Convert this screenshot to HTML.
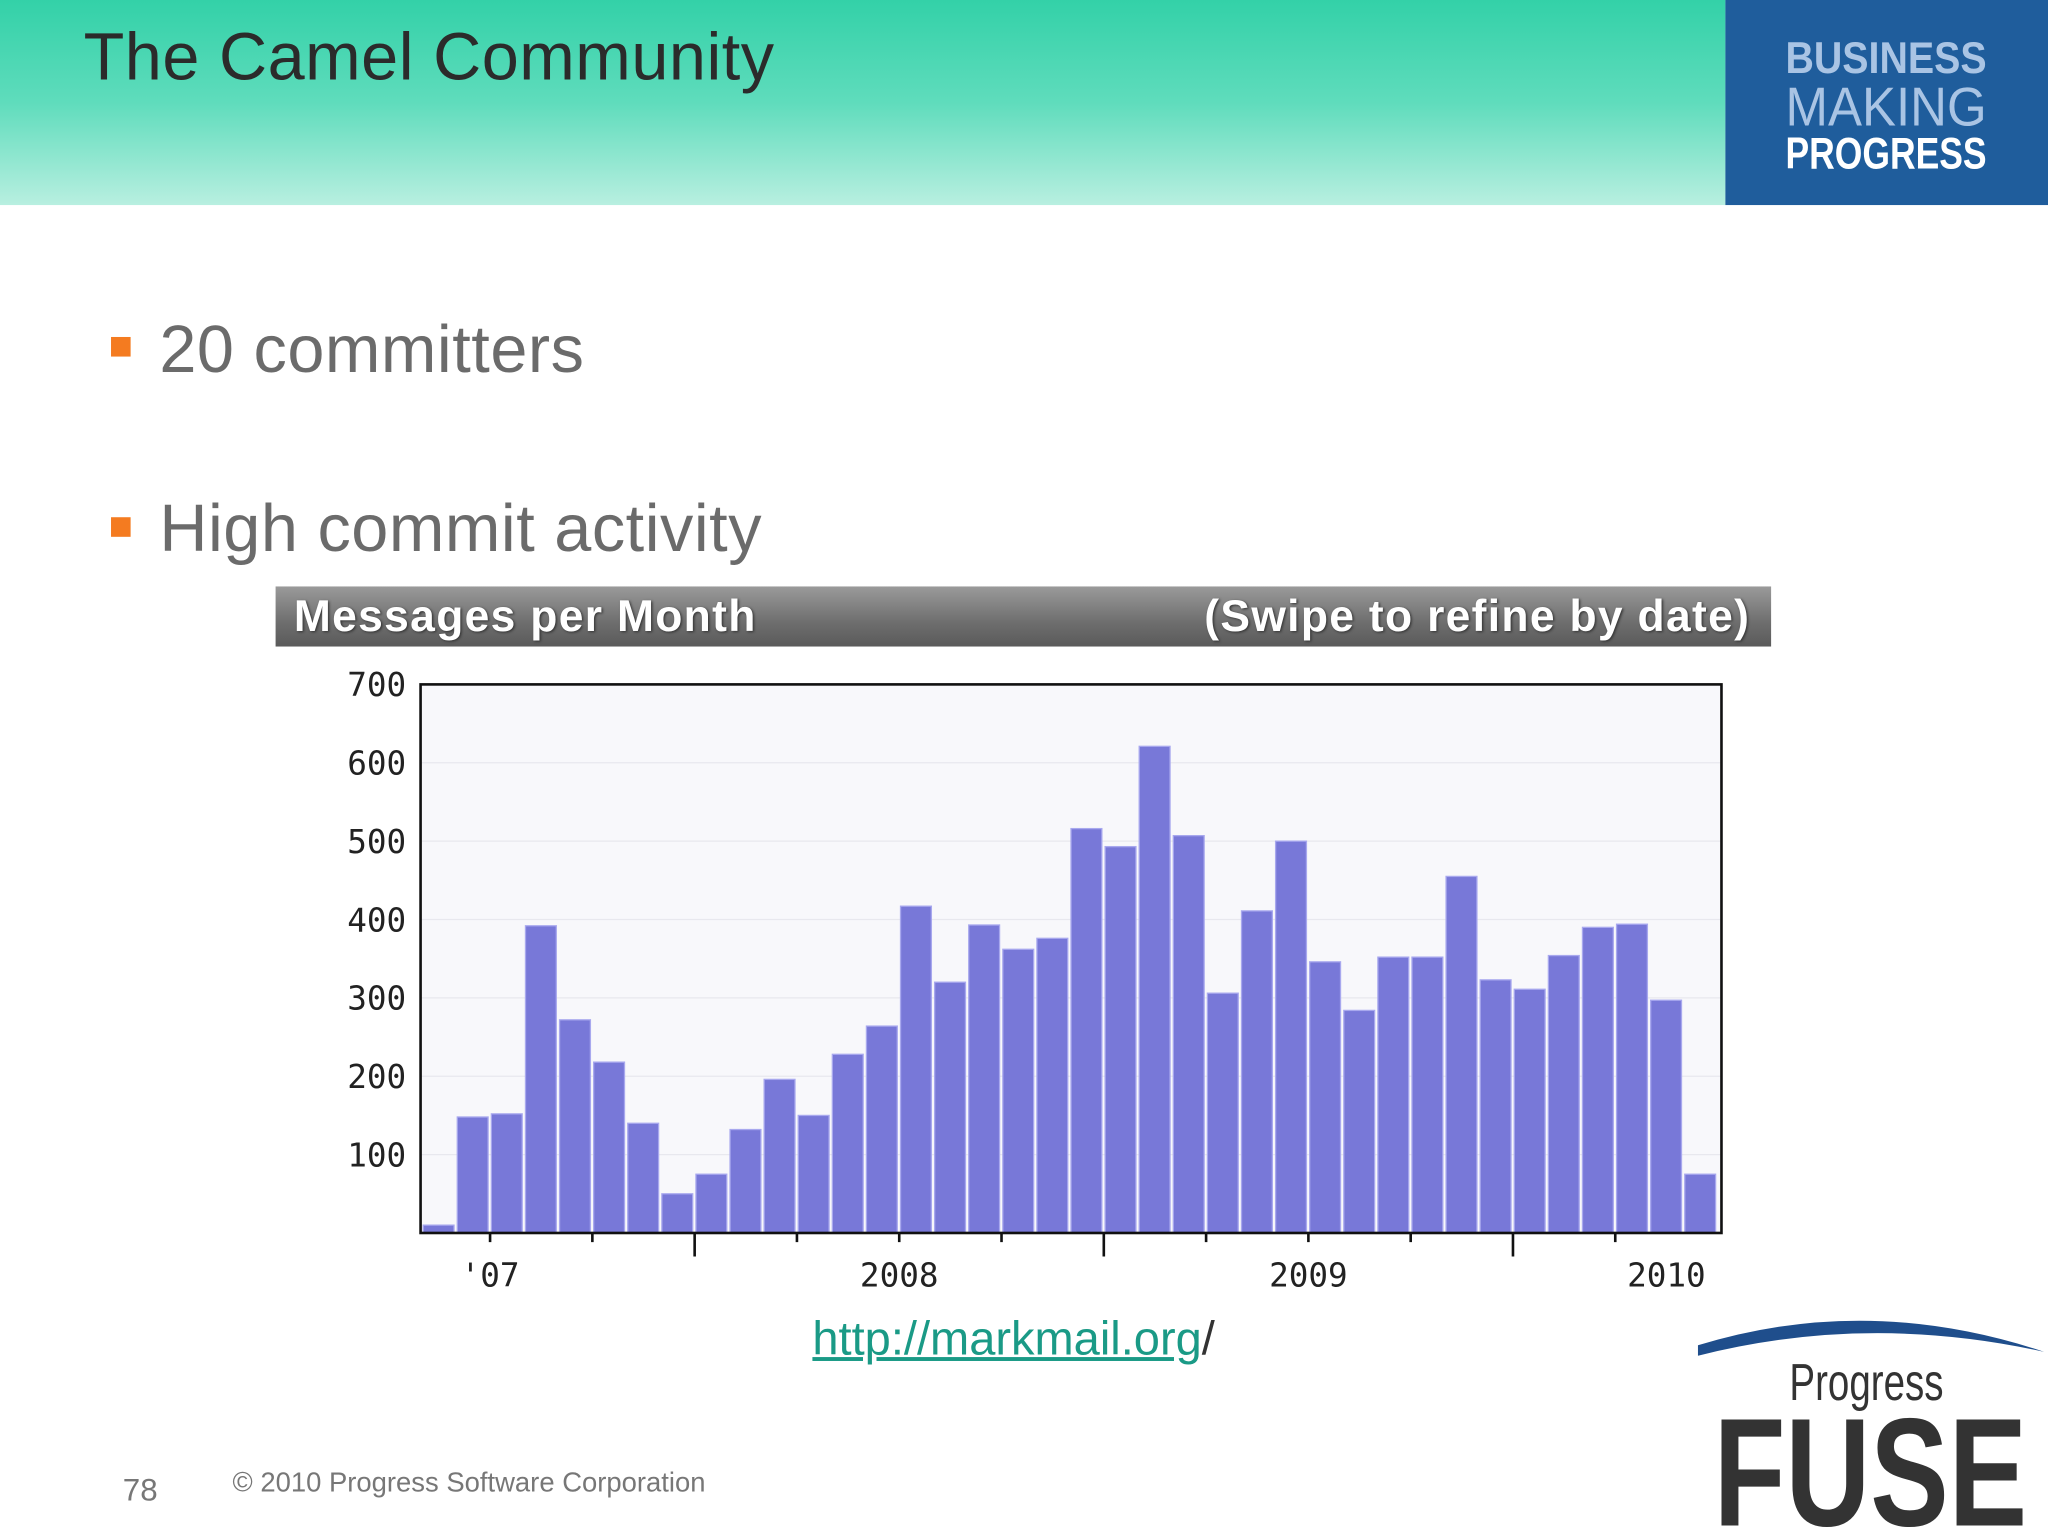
<!DOCTYPE html>
<html><head><meta charset="utf-8">
<style>
html,body{margin:0;padding:0;width:2048px;height:1536px;overflow:hidden;background:#fff}
#wrap{position:absolute;left:0;top:0;width:1568px;height:1176px;transform:scale(1.306122);transform-origin:0 0;font-family:"Liberation Sans",sans-serif}
.abs{position:absolute}
</style></head><body>
<div id="wrap">
  <div class="abs" style="left:0;top:0;width:1321px;height:157px;background:linear-gradient(#33d1a8 0%,#5fdcbc 50%,#b8efe0 100%)"></div>
  <div class="abs" style="left:64px;top:14px;font-size:51px;letter-spacing:0.4px;color:#2b2b2b">The Camel Community</div>
  <div class="abs" style="left:1321px;top:0;width:247px;height:157px;background:#1f5d9c">
    <svg width="247" height="157" style="position:absolute;left:0;top:0">
      <text x="46" y="56" font-family="Liberation Sans,sans-serif" font-weight="bold" font-size="34" fill="#a9c4e4" textLength="154" lengthAdjust="spacingAndGlyphs">BUSINESS</text>
      <text x="46" y="96" font-family="Liberation Sans,sans-serif" font-size="42" fill="#a9c4e4" textLength="154" lengthAdjust="spacingAndGlyphs">MAKING</text>
      <text x="46" y="129" font-family="Liberation Sans,sans-serif" font-weight="bold" font-size="34" fill="#fff" textLength="154" lengthAdjust="spacingAndGlyphs">PROGRESS</text>
    </svg>
  </div>
  <div class="abs" style="left:85px;top:258px;width:15px;height:15px;background:#f47b20"></div>
  <div class="abs" style="left:122px;top:238px;font-size:51px;letter-spacing:0.4px;color:#6b6b6b">20 committers</div>
  <div class="abs" style="left:85px;top:396px;width:15px;height:15px;background:#f47b20"></div>
  <div class="abs" style="left:122px;top:375px;font-size:51px;letter-spacing:0.4px;color:#6b6b6b">High commit activity</div>
  <div class="abs" style="left:211px;top:449px;width:1145px;height:46px;background:linear-gradient(#9a9a9a,#6e6e6e 60%,#5a5a5a);color:#fff;font-weight:bold;font-size:34px;line-height:46px;letter-spacing:1px;text-shadow:1px 1px 2px #333">
    <span style="position:absolute;left:14px">Messages per Month</span>
    <span style="position:absolute;right:16px">(Swipe to refine by date)</span>
  </div>
  <svg class="abs" style="left:0;top:0" width="1568" height="1176" id="chart"></svg>
  <div class="abs" style="left:622px;top:1004px;font-size:36px;color:#1a9a86"><span style="text-decoration:underline">http://markmail.org</span><span style="color:#333">/</span></div>
  <div class="abs" style="left:94px;top:1128px;font-size:24px;color:#777">78</div>
  <div class="abs" style="left:178px;top:1124px;font-size:21px;color:#777">© 2010 Progress Software Corporation</div>
  <svg class="abs" style="left:1290px;top:1000px" width="278" height="176">
    <path d="M10 30 Q140 -10 275 35 Q140 5 10 38 Z" fill="#1f4e8c"/>
    <text x="80" y="72" font-family="Liberation Sans,sans-serif" font-size="40" fill="#333" textLength="118" lengthAdjust="spacingAndGlyphs">Progress</text>
    <text x="22" y="168" font-family="Liberation Sans,sans-serif" font-weight="bold" font-size="118" fill="#333" textLength="240" lengthAdjust="spacingAndGlyphs">FUSE</text>
  </svg>
</div>
<script>
const values=[10,148,152,392,272,218,140,50,75,132,196,150,228,264,417,320,393,362,376,516,493,621,507,306,411,500,346,284,352,352,455,323,311,354,390,394,297,75];
const yTicks=[100,200,300,400,500,600,700];
const xLabels=[{i:2,t:"'07"},{i:14,t:"2008"},{i:26,t:"2009"},{i:36.5,t:"2010"}];
const ns="http://www.w3.org/2000/svg";
const svg=document.getElementById('chart');
const L=322,R=1318,T=524,B=944,maxV=700;
const slot=(R-L-4)/values.length;
const y=v=>B-(v/maxV)*(B-T);
const x=i=>L+1+i*slot;
function mk(tag,attrs){const e=document.createElementNS(ns,tag);for(const k in attrs)e.setAttribute(k,attrs[k]);svg.appendChild(e);return e;}
const bg=mk('rect',{x:L,y:T,width:R-L,height:B-T,fill:'#f8f8fb'});


yTicks.forEach(v=>{
  const g=mk('line',{x1:L,x2:R,y1:y(v),y2:y(v),stroke:'#e8e8ee','stroke-width':1});
  
  
  const t=mk('text',{x:311,y:y(v)+9,'text-anchor':'end','font-size':25,'font-family':'DejaVu Sans Mono,Liberation Mono,monospace',fill:'#222'});
  t.textContent=v;
  
  
});
values.forEach((v,i)=>{
  const r=mk('rect',{x:x(i)+1,y:y(v),width:slot-2.5,height:B-y(v),fill:'#7878d8',stroke:'#a8a8ee','stroke-width':1});
  
  
});
const frame=mk('rect',{x:L,y:T,width:R-L,height:B-T,fill:'none',stroke:'#111','stroke-width':2});


for(let i=2;i<values.length;i+=3){
  const major=(i-8)%12===0;
  const tk=mk('line',{x1:x(i),x2:x(i),y1:B,y2:B+(major?18:7),stroke:'#111','stroke-width':2});
  
  
}
xLabels.forEach(l=>{
  const t=mk('text',{x:x(l.i),y:985,'text-anchor':'middle','font-size':25,'font-family':'DejaVu Sans Mono,Liberation Mono,monospace',fill:'#222'});
  t.textContent=l.t;
  
  
});
</script>
</body></html>
